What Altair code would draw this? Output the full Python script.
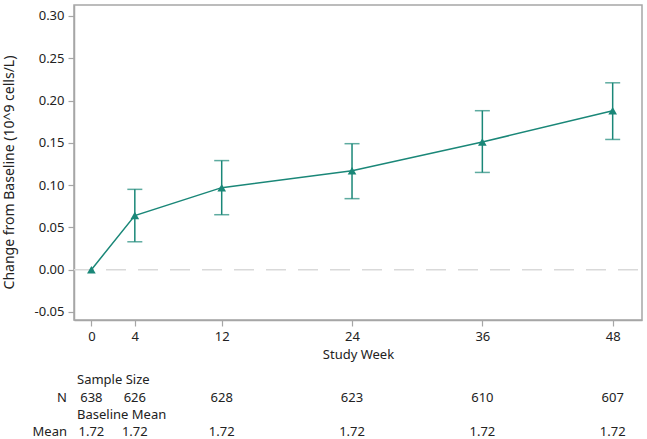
import altair as alt
import pandas as pd

weeks = [0, 4, 12, 24, 36, 48]
change = [0.000, 0.064, 0.097, 0.117, 0.151, 0.188]
lower = [None, 0.033, 0.065, 0.084, 0.115, 0.154]
upper = [None, 0.095, 0.129, 0.149, 0.188, 0.221]
n_values = ["638", "626", "628", "623", "610", "607"]
baseline_mean = ["1.72", "1.72", "1.72", "1.72", "1.72", "1.72"]
y_ticks = [-0.05, 0.0, 0.05, 0.10, 0.15, 0.20, 0.25, 0.30]

df = pd.DataFrame({"week": weeks, "change": change, "lower": lower,
                   "upper": upper, "n": n_values, "mean": baseline_mean})
ci = df.dropna(subset=["lower"])

TEAL = "#1a8778"
FONT = "Noto Sans"
W, H = 568, 315

xs = alt.Scale(domain=[-1.6, 50.7], nice=False, zero=False)
ys = alt.Scale(domain=[-0.0595, 0.313], nice=False, zero=False)

x_enc = alt.X("week:Q", scale=xs,
              axis=alt.Axis(values=weeks, title="Study Week", grid=False,
                            tickSize=6, labelPadding=4, titlePadding=5,
                            format="d"))
y_enc = alt.Y("change:Q", scale=ys,
              axis=alt.Axis(values=y_ticks, title="Change from Baseline (10^9 cells/L)",
                            grid=False, tickSize=6, labelPadding=4,
                            labelExpr="replace(format(datum.value, '.2f'), '\u2212', '-')",
                            titleX=-65, titleY=167, titleBaseline="middle",
                            titleFontSize=14))

base = alt.Chart(df)

zero_rule = alt.Chart(pd.DataFrame({"z": [0.0]})).mark_rule(
    color="#d9d9d9", strokeWidth=1.5, strokeDash=[20, 12]
).encode(y=alt.Y("z:Q", scale=ys), x=alt.value(0), x2=alt.value(W))

line = base.mark_line(color=TEAL, strokeWidth=1.5).encode(x=x_enc, y=y_enc)

err = alt.Chart(ci).mark_rule(color=TEAL, strokeWidth=1.5).encode(
    x=alt.X("week:Q", scale=xs), y=alt.Y("lower:Q", scale=ys), y2="upper:Q")
cap_lo = alt.Chart(ci).mark_tick(color=TEAL, size=15, thickness=1.5, orient="horizontal").encode(
    x=alt.X("week:Q", scale=xs), y=alt.Y("lower:Q", scale=ys))
cap_hi = alt.Chart(ci).mark_tick(color=TEAL, size=15, thickness=1.5, orient="horizontal").encode(
    x=alt.X("week:Q", scale=xs), y=alt.Y("upper:Q", scale=ys))

pts = base.mark_point(shape="triangle-up", filled=True, size=75, color=TEAL, opacity=1).encode(
    x=alt.X("week:Q", scale=xs), y=alt.Y("change:Q", scale=ys))

txt_kw = dict(font=FONT, fontSize=13, color="#222222")

n_txt = base.mark_text(align="center", baseline="middle", **txt_kw).encode(
    x=alt.X("week:Q", scale=xs), y=alt.value(393), text="n:N")
m_txt = base.mark_text(align="center", baseline="middle", **txt_kw).encode(
    x=alt.X("week:Q", scale=xs), y=alt.value(427), text="mean:N")

labels = pd.DataFrame({
    "label": ["Sample Size", "Baseline Mean", "N", "Mean"],
    "px": [3, 3, -7, -7],
    "py": [375, 410, 393, 427],
})
lab_left = alt.Chart(labels.iloc[:2]).mark_text(align="left", baseline="middle", **txt_kw).encode(
    x=alt.X("px:Q", scale=None), y=alt.Y("py:Q", scale=None), text="label:N")
lab_right = alt.Chart(labels.iloc[2:]).mark_text(align="right", baseline="middle", **txt_kw).encode(
    x=alt.X("px:Q", scale=None), y=alt.Y("py:Q", scale=None), text="label:N")

chart = alt.layer(zero_rule, line, err, cap_lo, cap_hi, pts, n_txt, m_txt, lab_left, lab_right).properties(
    width=W, height=H,
    background="white",
    autosize=alt.AutoSizeParams(type="none"),
    padding={"left": 74, "top": 5, "right": 5, "bottom": 119},
).configure_view(
    stroke="#a6a6a6", strokeWidth=1.5
).configure_axis(
    domainColor="#a6a6a6", domainWidth=1.5, tickColor="#a6a6a6", tickWidth=1.2,
    labelFont=FONT, labelFontSize=13, labelColor="#222222",
    titleFont=FONT, titleFontSize=13, titleColor="#222222", titleFontWeight="normal",
)

chart.save("out.html", embed_options={"renderer": "svg", "actions": False})
